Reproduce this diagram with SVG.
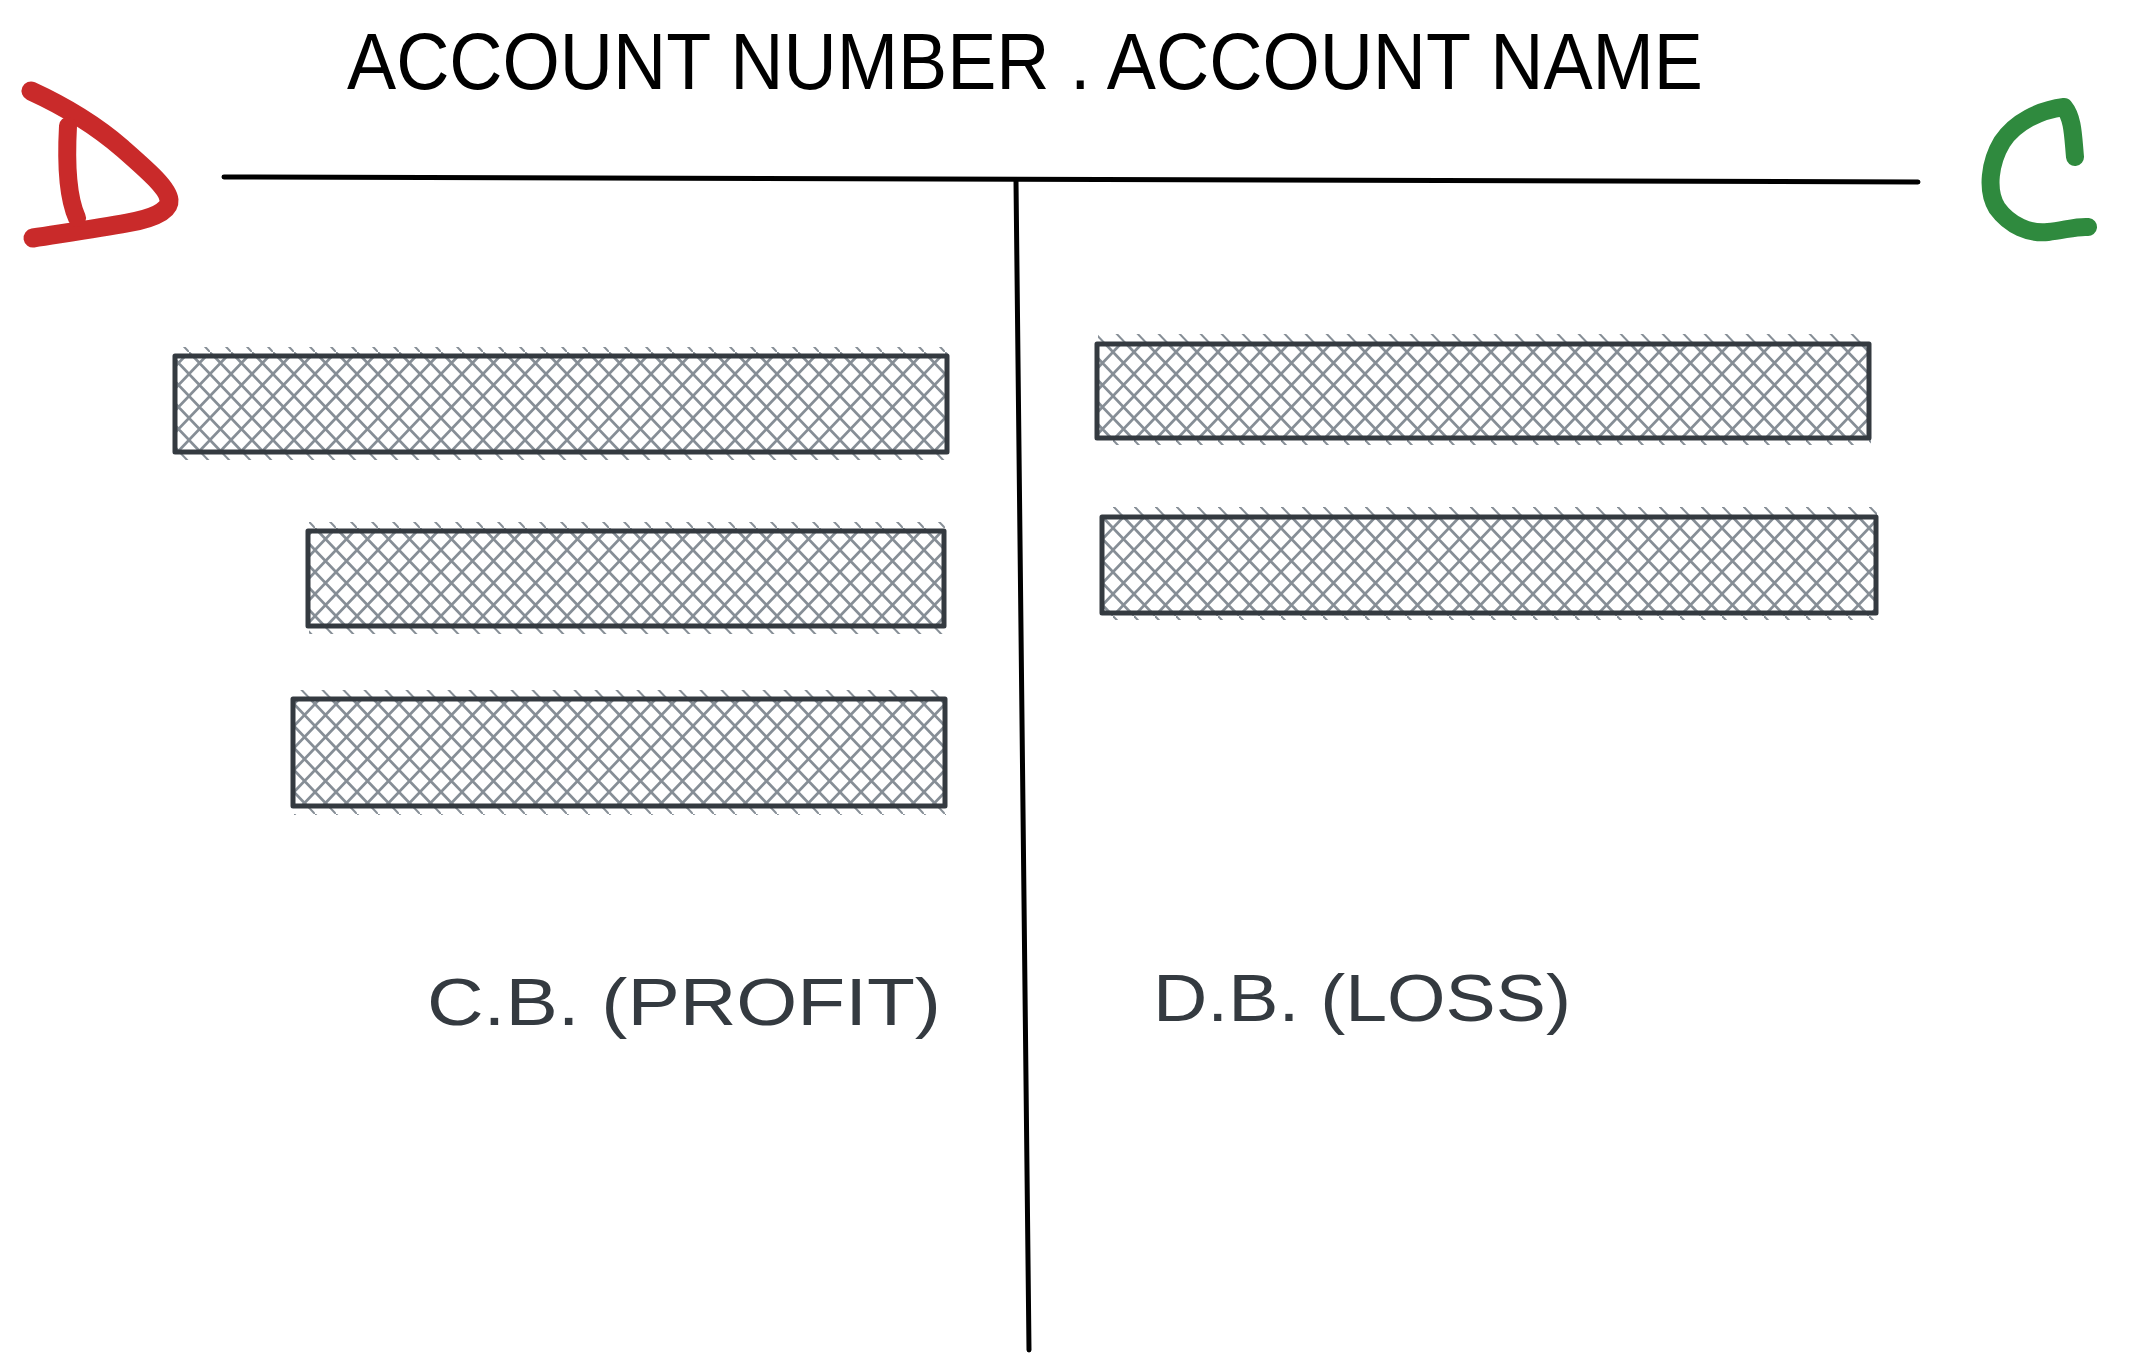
<svg xmlns="http://www.w3.org/2000/svg" width="2139" height="1369" viewBox="0 0 2139 1369">
  <style>
    .title { font-family: "Liberation Sans", Arial, sans-serif; font-size: 80px; fill: #000000; }
    .label { font-family: "Liberation Sans", Arial, sans-serif; font-size: 66px; fill: #343a40; }
    .box { fill: url(#hatch); stroke: #343a40; stroke-width: 5; stroke-linejoin: round; }
    .tick { fill: url(#hatch1); stroke: none; }
    .rule { stroke: #000000; stroke-width: 5; stroke-linecap: round; fill: none; }
    .brush { fill: none; stroke-linecap: round; stroke-linejoin: round; }
  </style>
  <defs>
    <pattern id="hatch" patternUnits="userSpaceOnUse" width="21" height="22">
      <rect width="21" height="22" fill="#ffffff"/>
      <path d="M-1,-1.05 L22,23.05 M22,-1.05 L-1,23.05" stroke="#868e96" stroke-width="2.7" fill="none"/>
    </pattern>
    <pattern id="hatch1" patternUnits="userSpaceOnUse" width="21" height="22">
      <path d="M-1,-1.05 L22,23.05" stroke="#868e96" stroke-width="2" fill="none"/>
    </pattern>
  </defs>

  <g id="title">
    <text class="title" x="347" y="89" textLength="1356" lengthAdjust="spacingAndGlyphs">ACCOUNT NUMBER . ACCOUNT NAME</text>
  </g>

  <g id="debit-mark">
    <path class="brush" stroke="#c92a2a" stroke-width="19" d="M31,91 C55,102 92,122 122,148 C147,170 168,188 169,200 C170,212 150,219 127,223 C100,228 65,233 33,238"/>
    <path class="brush" stroke="#c92a2a" stroke-width="18" d="M68,126 C66,162 68,198 77,218"/>
  </g>

  <g id="credit-mark">
    <path class="brush" stroke="#2f8a3e" stroke-width="18" d="M2075,157 C2073,135 2073,118 2064,107 C2040,110 2015,122 2002,142 C1990,162 1986,190 1997,208 C2010,226 2030,234 2048,232 C2065,230 2078,226 2088,227"/>
  </g>

  <g id="connectors">
    <path class="rule" d="M224,177 L1918,182"/>
    <path class="rule" d="M1016,181 L1029,1350"/>
  </g>

  <g id="debit-entry-1">
    <rect class="tick" x="176" y="347" width="772" height="9"/>
    <rect class="tick" x="176" y="452" width="772" height="8"/>
    <rect class="box" x="175" y="356" width="772" height="96"/>
  </g>
  <g id="debit-entry-2">
    <rect class="tick" x="309" y="522" width="636" height="9"/>
    <rect class="tick" x="309" y="626" width="636" height="8"/>
    <rect class="box" x="308" y="531" width="636" height="95"/>
  </g>
  <g id="debit-entry-3">
    <rect class="tick" x="294" y="690" width="652" height="9"/>
    <rect class="tick" x="294" y="806" width="652" height="9"/>
    <rect class="box" x="293" y="699" width="652" height="107"/>
  </g>
  <g id="credit-entry-1">
    <rect class="tick" x="1098" y="334" width="773" height="10"/>
    <rect class="tick" x="1098" y="438" width="773" height="7"/>
    <rect class="box" x="1097" y="344" width="772" height="94"/>
  </g>
  <g id="credit-entry-2">
    <rect class="tick" x="1103" y="507" width="774" height="10"/>
    <rect class="tick" x="1103" y="613" width="774" height="7"/>
    <rect class="box" x="1102" y="517" width="774" height="96"/>
  </g>

  <g id="label-cb">
    <text class="label" x="427" y="1025" textLength="514" lengthAdjust="spacingAndGlyphs">C.B. (PROFIT)</text>
  </g>
  <g id="label-db">
    <text class="label" x="1153" y="1021" textLength="418" lengthAdjust="spacingAndGlyphs">D.B. (LOSS)</text>
  </g>
</svg>
